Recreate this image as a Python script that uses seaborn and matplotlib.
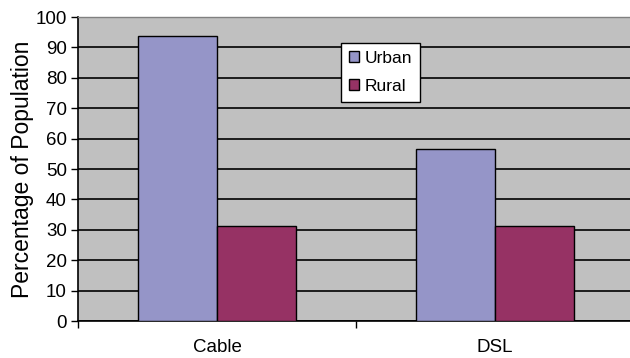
import matplotlib
matplotlib.use("Agg")
import matplotlib.pyplot as plt
import pandas as pd
import seaborn as sb

categories = ["Cable", "DSL"]
urban = [93.8, 56.5]
rural = [31.2, 31.2]
series = ["Urban", "Rural"]

df = pd.DataFrame({
    "tech": categories * 2,
    "group": ["Urban"] * 2 + ["Rural"] * 2,
    "pct": urban + rural,
})

sb.set_theme(style="white")
plt.rcParams['font.family'] = ['Liberation Sans', 'DejaVu Sans']

fig = plt.figure(figsize=(6.3, 3.58), dpi=100)
ax = fig.add_axes([78 / 630, 1 - 321 / 358, (630 - 78) / 630, (321 - 17) / 358])
ax.set_facecolor('#c0c0c0')

sb.barplot(data=df, x="tech", y="pct", hue="group", hue_order=series,
           palette={"Urban": "#9595c8", "Rural": "#963264"},
           width=0.57, edgecolor='black', linewidth=1, saturation=1,
           ax=ax, zorder=3)

ax.set_ylim(0, 100)
ax.set_xlim(-0.5, (630 - 78) / 278 - 0.5)
ax.set_yticks(range(0, 101, 10))
ax.yaxis.grid(True, color='black', linewidth=1.2, zorder=0)
ax.set_axisbelow(True)
ax.tick_params(axis='y', left=True, length=5, width=1, color='black',
               labelsize=13.5, pad=3, colors='black')
ax.tick_params(axis='x', length=0, labelsize=13.5, pad=13, colors='black')
ax.set_xticks([-0.5, 0.5], minor=True)
ax.tick_params(axis='x', which='minor', bottom=True, length=5, width=1, color='black')

for s in ['left', 'bottom']:
    ax.spines[s].set_color('black')
    ax.spines[s].set_linewidth(1.2)
ax.spines['top'].set_color('#808080')
ax.spines['top'].set_linewidth(1)
ax.spines['right'].set_visible(False)

ax.set_xlabel('')
ax.set_ylabel('Percentage of Population', fontsize=16.5, color='black', labelpad=1)

leg = ax.legend(loc='upper left', bbox_to_anchor=((341 - 78) / 552, (321 - 43) / 304),
                frameon=True, fancybox=False, fontsize=12.5, handlelength=0.6,
                handleheight=0.6, handletextpad=0.3, borderpad=0.45,
                labelspacing=0.75, borderaxespad=0)
leg.get_frame().set_edgecolor('black')
leg.get_frame().set_facecolor('white')
leg.get_frame().set_linewidth(1)
leg.get_frame().set_alpha(1)
for t in leg.get_texts():
    t.set_color('black')

fig.savefig('out.png', dpi=100)
